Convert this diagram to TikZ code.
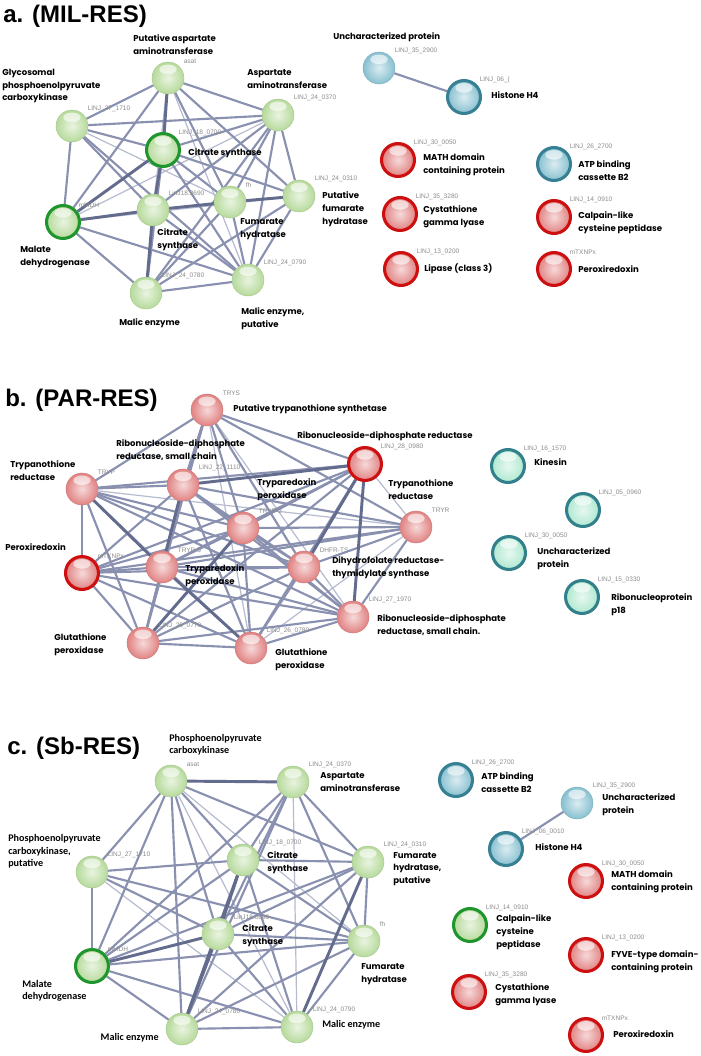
\documentclass[tikz,border=0pt]{standalone}
\usepackage{fontspec}
\setmainfont{Poppins}
\newfontfamily\carl{Carlito}
\newfontfamily\libs{Liberation Sans}
\pgfdeclarelayer{bg}
\pgfsetlayers{bg,main}
\definecolor{gfill}{RGB}{182,218,155}
\definecolor{gbord}{RGB}{30,150,45}
\definecolor{pfill}{RGB}{225,130,130}
\definecolor{rbord}{RGB}{205,15,15}
\definecolor{bfill}{RGB}{135,192,208}
\definecolor{tbord}{RGB}{55,128,148}
\definecolor{mfill}{RGB}{175,232,208}
\definecolor{mbord}{RGB}{50,128,140}
\definecolor{ethick}{RGB}{100,108,142}
\definecolor{emed}{RGB}{138,145,176}
\definecolor{ethin}{RGB}{182,187,208}
\definecolor{idgray}{RGB}{140,140,140}
\tikzset{
  sph/.style={circle, minimum size=24pt, inner sep=0pt, inner color=#1!30!white, outer color=#1,
    draw=#1!90!black, line width=0.3pt,
    path picture={\fill[white,opacity=0.6] ([yshift=-5.5pt]path picture bounding box.north) ellipse (6.5pt and 3.6pt);}},
  bsph/.style 2 args={sph=#1, minimum size=24.7pt, draw=#2, line width=2.3pt},
  gn/.style={sph=gfill}, gb/.style={bsph={gfill}{gbord}},
  pn/.style={sph=pfill}, pb/.style={bsph={pfill}{rbord}},
  lb/.style={sph=bfill}, tb/.style={bsph={bfill}{tbord}},
  mb/.style={bsph={mfill}{mbord}},
  e1/.style={draw=ethin, line width=0.9pt},
  e2/.style={draw=emed, line width=1.6pt},
  e3/.style={draw=ethick, line width=2.2pt},
  idl/.style={font=\libs\fontsize{4.9}{5.5}\selectfont, text=idgray, inner sep=0pt},
  lab/.style={font=\fontsize{6.4}{9.6}\selectfont\bfseries, align=left, inner sep=0pt, text=black, anchor=west},
  clab/.style={font=\carl\fontsize{7.6}{9.4}\selectfont\bfseries, align=left, inner sep=0pt, text=black, anchor=west},
  ttl/.style={font=\libs\fontsize{18}{20}\selectfont\bfseries, inner sep=0pt, anchor=west},
}
\newcommand\protn[5]{%
  \node[#2] (#1) at (#3,#4) {};
  \node[idl, anchor=west] (#1i) at ([shift={(15.5,-17)}]#1.center) {#5};
}
\begin{document}
\begin{tikzpicture}[x=0.75pt,y=-0.75pt]
\begin{pgfonlayer}{bg}
\fill[white] (0,0) rectangle (700,1056);
\end{pgfonlayer}
\useasboundingbox (0,0) rectangle (700,1056);

% ---------- titles
\node[ttl] (ta) at (3,16) {a. (MIL-RES)};
\node[ttl] (tbt) at (5,400) {b. (PAR-RES)};
\node[ttl] (tct) at (7,748) {c. (Sb-RES)};

% ---------- panel a
\protn{a1}{gn}{168}{78}{asat}
\protn{a2}{gn}{72}{126}{LINJ\_27\_1710}
\protn{a3}{gb}{163}{150}{LINJ\_18\_0700}
\protn{a4}{gn}{278}{115}{LINJ\_24\_0370}
\protn{a5}{gn}{230}{202}{fh}
\protn{a6}{gn}{299}{196}{LINJ\_24\_0310}
\protn{a7}{gn}{153}{210}{LinJ18.0690}
\protn{a8}{gb}{63}{222}{mMDH}
\protn{a9}{gn}{146}{293}{LINJ\_24\_0780}
\protn{a10}{gn}{248}{280}{LINJ\_24\_0790}
\protn{ar1}{lb}{379}{68}{LINJ\_35\_2900}
\protn{ar2}{tb}{464}{97}{LINJ\_06\_(}
\protn{ar3}{pb}{398}{160}{LINJ\_30\_0050}
\protn{ar4}{pb}{400}{214}{LINJ\_35\_3280}
\protn{ar5}{pb}{401}{269}{LINJ\_13\_0200}
\protn{ar6}{tb}{554}{164}{LINJ\_26\_2700}
\protn{ar7}{pb}{554}{217}{LINJ\_14\_0910}
\protn{ar8}{pb}{554}{269}{mTXNPx}

\node[lab] (la1) at (133,44.5) {Putative aspartate\\aminotransferase};
\node[lab] (la2) at (2,86) {Glycosomal\\phosphoenolpyruvate\\carboxykinase};
\node[lab] (la3) at (188,153) {Citrate synthase};
\node[lab] (la4) at (247,79) {Aspartate\\aminotransferase};
\node[lab] (la5) at (322,209) {Putative\\fumarate\\hydratase};
\node[lab] (la6) at (157,240) {Citrate\\synthase};
\node[lab] (la7) at (240,229.5) {Fumarate\\hydratase};
\node[lab] (la8) at (20,257) {Malate\\dehydrogenase};
\node[lab] (la9) at (119,323) {Malic enzyme};
\node[lab] (la10) at (241,318.5) {Malic enzyme,\\putative};
\node[lab] (lar1) at (333,37) {Uncharacterized protein};
\node[lab] (lar2) at (491,95) {Histone H4};
\node[lab] (lar3) at (423,165) {MATH domain\\containing protein};
\node[lab] (lar4) at (423,217) {Cystathione\\gamma lyase};
\node[lab] (lar5) at (424,269) {Lipase (class 3)};
\node[lab] (lar6) at (578,170.5) {ATP binding\\cassette B2};
\node[lab] (lar7) at (578,222.5) {Calpain-like\\cysteine peptidase};
\node[lab] (lar8) at (578,269) {Peroxiredoxin};

% ---------- panel b
\protn{b1}{pn}{207}{410}{TRYS}
\protn{b2}{pb}{365}{464}{LINJ\_28\_0980}
\protn{b3}{pn}{183}{485}{LINJ\_22\_1110}
\protn{b4}{pn}{82}{489}{TRYP}
\protn{b5}{pn}{243}{528}{TRYP-2}
\protn{b6}{pn}{416}{527}{TRYR}
\protn{b7}{pb}{82}{573}{mTXNPx}
\protn{b8}{pn}{162}{567}{TRYP-3}
\protn{b9}{pn}{304}{567}{DHFR-TS}
\protn{b10}{pn}{353}{617}{LINJ\_27\_1970}
\protn{b11}{pn}{143}{643}{LINJ\_26\_0770}
\protn{b12}{pn}{251}{648}{LINJ\_26\_0780}
\protn{br1}{mb}{508}{466}{LINJ\_16\_1570}
\protn{br2}{mb}{583}{510}{LINJ\_05\_0960}
\protn{br3}{mb}{509}{553}{LINJ\_30\_0050}
\protn{br4}{mb}{582}{597}{LINJ\_15\_0330}

\node[lab] (lb1) at (233,409) {Putative trypanothione synthetase};
\node[lab] (lb2) at (297,436) {Ribonucleoside-diphosphate reductase};
\node[lab] (lb3) at (116,450) {Ribonucleoside-diphosphate\\reductase, small chain};
\node[lab] (lb4) at (10,470.5) {Trypanothione\\reductase};
\node[lab] (lb5) at (257,489.5) {Tryparedoxin\\peroxidase};
\node[lab] (lb6) at (388,490) {Trypanothione\\reductase};
\node[lab] (lb7) at (5,547) {Peroxiredoxin};
\node[lab] (lb8) at (185,576) {Tryparedoxin\\peroxidase};
\node[lab] (lb9) at (332,568) {Dihydrofolate reductase-\\thymidylate synthase};
\node[lab] (lb10) at (377,625.5) {Ribonucleoside-diphosphate\\reductase, small chain.};
\node[lab] (lb11) at (54,645) {Glutathione\\peroxidase};
\node[lab] (lb12) at (275,659.5) {Glutathione\\peroxidase};
\node[lab] (lbr1) at (534,462) {Kinesin};
\node[lab] (lbr3) at (537,558.5) {Uncharacterized\\protein};
\node[lab] (lbr4) at (611,605) {Ribonucleoprotein\\p18};

% ---------- panel c
\protn{c1}{gn}{171}{781}{asat}
\protn{c2}{gn}{293}{782}{LINJ\_24\_0370}
\protn{c3}{gn}{243}{860}{LINJ\_18\_0700}
\protn{c4}{gn}{368}{862}{LINJ\_24\_0310}
\protn{c5}{gn}{92}{872}{LINJ\_27\_1710}
\protn{c6}{gn}{218}{934}{LinJ18.0690}
\protn{c7}{gn}{364}{941}{fh}
\protn{c8}{gb}{92}{966}{mMDH}
\protn{c9}{gn}{182}{1029}{LINJ\_24\_0780}
\protn{c10}{gn}{297}{1027}{LINJ\_24\_0790}
\protn{cr1}{tb}{456}{780}{LINJ\_26\_2700}
\protn{cr2}{lb}{577}{803}{LINJ\_35\_2900}
\protn{cr3}{tb}{506}{849}{LINJ\_06\_0010}
\protn{cr4}{pb}{586}{881}{LINJ\_30\_0050}
\protn{cr5}{gb}{470}{925}{LINJ\_14\_0910}
\protn{cr6}{pb}{586}{955}{LINJ\_13\_0200}
\protn{cr7}{pb}{469}{992}{LINJ\_35\_3280}
\protn{cr8}{pb}{586}{1035}{mTXNPx}

\node[clab] (lc1) at (169,744.5) {Phosphoenolpyruvate\\carboxykinase};
\node[lab] (lc2) at (320,782) {Aspartate\\aminotransferase};
\node[lab] (lc3) at (267,862.5) {Citrate\\synthase};
\node[lab] (lc4) at (393,869) {Fumarate\\hydratase,\\putative};
\node[clab] (lc5) at (8,851.5) {Phosphoenolpyruvate\\carboxykinase,\\putative};
\node[lab] (lc6) at (242,935.5) {Citrate\\synthase};
\node[lab] (lc7) at (361,974.5) {Fumarate\\hydratase};
\node[clab] (lc8) at (22,991) {Malate\\dehydrogenase};
\node[clab, anchor=east] (lc9) at (159,1038) {Malic enzyme};
\node[clab] (lc10) at (322,1025) {Malic enzyme};
\node[lab] (lcr1) at (481,783) {ATP binding\\cassette B2};
\node[lab] (lcr2) at (602,804.5) {Uncharacterized\\protein};
\node[lab] (lcr3) at (535,847) {Histone H4};
\node[lab] (lcr4) at (611,882) {MATH domain\\containing protein};
\node[lab] (lcr5) at (496,932) {Calpain-like\\cysteine\\peptidase};
\node[lab] (lcr6) at (611,962) {FYVE-type domain-\\containing protein};
\node[lab] (lcr7) at (495,995) {Cystathione\\gamma lyase};
\node[lab] (lcr8) at (613,1034) {Peroxiredoxin};

% ---------- edges
\begin{pgfonlayer}{bg}
% panel a
\foreach \u/\v in {a1/a7,a1/a10,a1/a9,a4/a8,a6/a7,a2/a5,a8/a6}
  \draw[e1] (\u) -- (\v);
\foreach \u/\v in {a1/a2,a1/a4,a1/a8,a1/a5,a1/a6,a2/a3,a2/a4,a2/a7,a2/a8,a2/a10,a3/a4,a3/a5,a3/a6,a3/a10,a4/a6,a4/a7,a4/a5,a4/a9,a4/a10,a5/a10,a5/a9,a6/a10,a6/a9,a8/a9,a8/a10,a9/a10,a7/a10,a3/a9}
  \draw[e2] (\u) -- (\v);
\foreach \u/\v in {a1/a3,a3/a7,a7/a8,a7/a5,a5/a6,a7/a9,a8/a3}
  \draw[e3] (\u) -- (\v);
\draw[e2] (ar1) -- (ar2);
% panel b
\foreach \u/\v in {b1/b12,b4/b6,b6/b12,b2/b6,b1/b10,b4/b12}
  \draw[e1] (\u) -- (\v);
\foreach \u/\v in {b1/b3,b1/b4,b1/b5,b1/b8,b1/b2,b1/b6,b1/b9,b1/b11,b2/b4,b2/b5,b2/b7,b2/b8,b2/b11,b2/b12,b3/b4,b3/b5,b3/b7,b3/b9,b3/b11,b3/b12,b3/b10,b3/b6,b4/b5,b4/b7,b4/b11,b4/b9,b4/b10,b5/b6,b5/b7,b5/b8,b5/b9,b5/b10,b5/b12,b6/b9,b6/b10,b6/b7,b6/b8,b7/b8,b7/b9,b7/b10,b7/b11,b7/b12,b8/b9,b8/b10,b8/b11,b9/b10,b9/b11,b9/b12,b10/b11,b10/b12,b11/b12}
  \draw[e2] (\u) -- (\v);
\foreach \u/\v in {b2/b3,b3/b8,b8/b12,b2/b10,b4/b8,b5/b11,b2/b9}
  \draw[e3] (\u) -- (\v);
% panel c
\foreach \u/\v in {c1/c10,c1/c7,c2/c10,c5/c10}
  \draw[e1] (\u) -- (\v);
\foreach \u/\v in {c1/c3,c1/c5,c1/c6,c1/c8,c1/c9,c1/c4,c2/c3,c2/c6,c2/c4,c2/c9,c2/c8,c2/c7,c3/c4,c3/c5,c3/c8,c3/c10,c3/c7,c4/c6,c4/c7,c4/c8,c4/c9,c5/c8,c5/c6,c5/c7,c6/c7,c6/c10,c7/c8,c7/c9,c7/c10,c8/c9,c8/c10,c9/c10}
  \draw[e2] (\u) -- (\v);
\foreach \u/\v in {c3/c6,c6/c9,c1/c2,c6/c8,c3/c9,c4/c10}
  \draw[e3] (\u) -- (\v);
\draw[e2] (cr2) -- (cr3);
\end{pgfonlayer}
\end{tikzpicture}
\end{document}
